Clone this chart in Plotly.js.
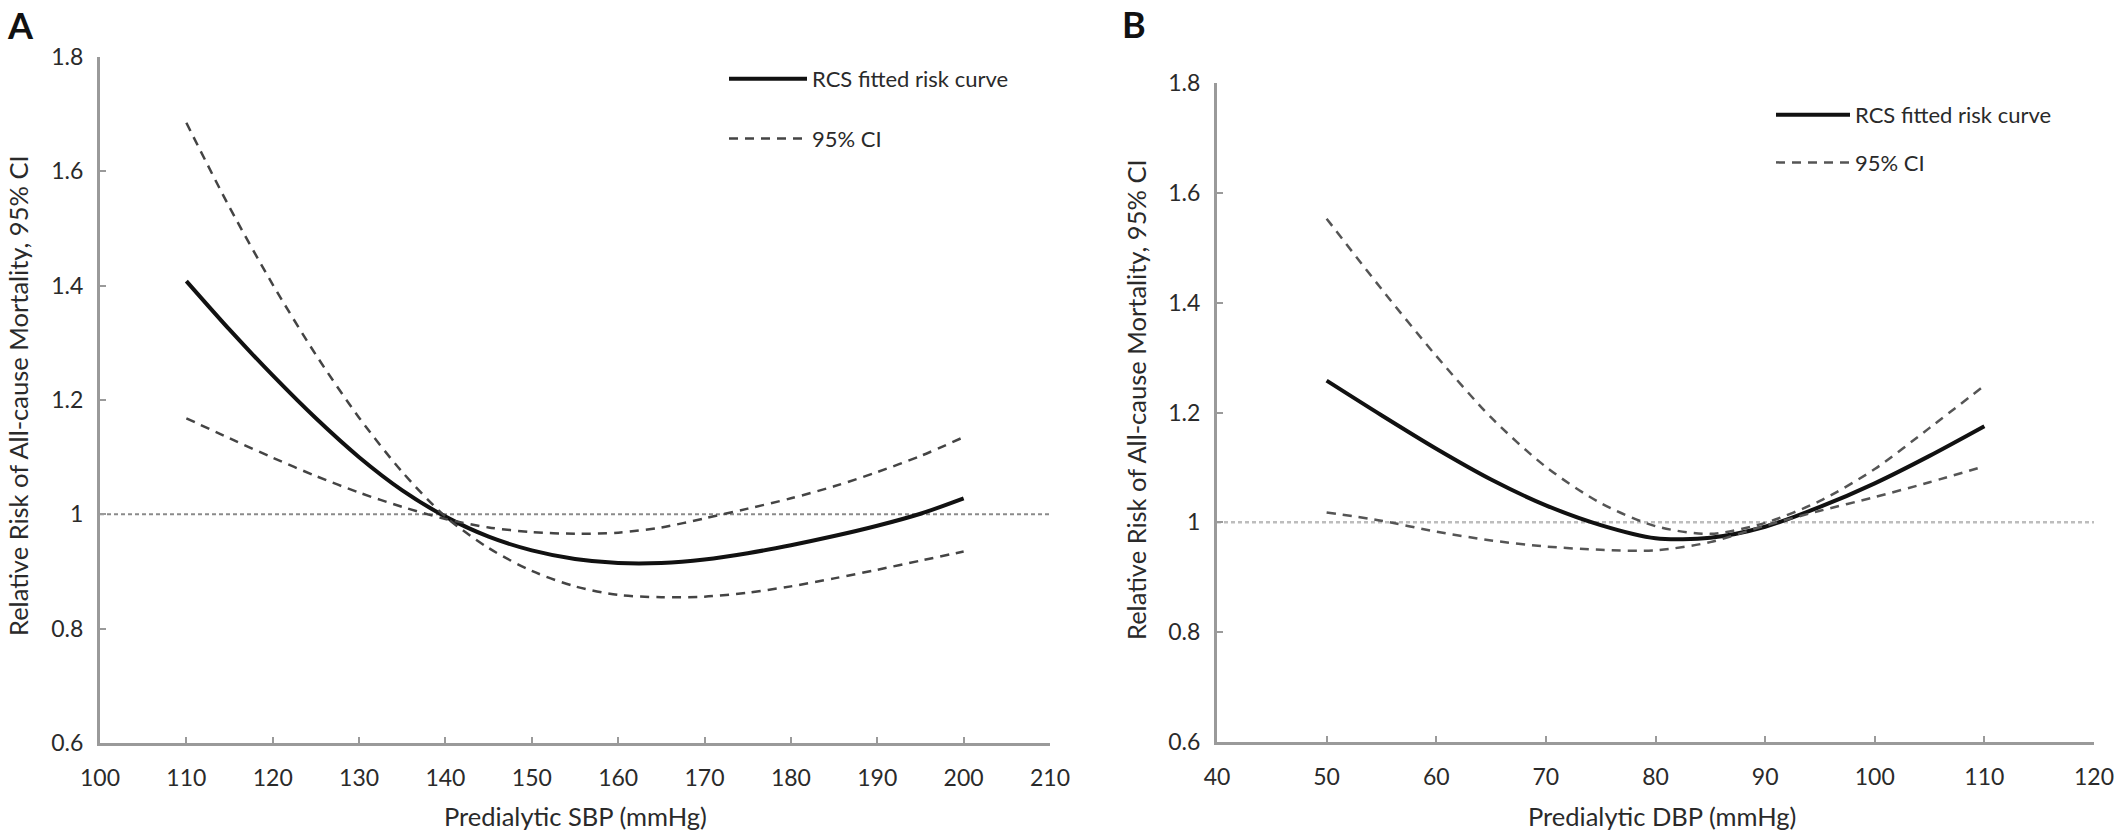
<!DOCTYPE html>
<html><head><meta charset="utf-8">
<script src="https://cdn.plot.ly/plotly-3.0.1.min.js"></script>
<style>html,body{margin:0;padding:0;background:#fff}</style>
</head><body>
<div id="chart" style="width:2125px;height:839px"></div>
<script>
// ---- Data ----
const sbpX   = [110,115,120,125,130,135,140,145,150,155,160,165,170,175,180,185,190,195,200];
const sbpRR  = [1.408,1.323,1.243,1.168,1.100,1.042,0.996,0.961,0.937,0.922,0.915,0.915,0.921,0.932,0.946,0.962,0.980,1.001,1.028];
const sbpCI1 = [1.685,1.537,1.402,1.279,1.169,1.074,0.996,0.941,0.901,0.874,0.859,0.855,0.856,0.863,0.874,0.888,0.903,0.919,0.935];
const sbpCI2 = [1.168,1.133,1.099,1.067,1.038,1.013,0.992,0.977,0.969,0.966,0.968,0.977,0.993,1.010,1.028,1.049,1.074,1.102,1.135];

const dbpX   = [50,55,60,65,70,75,80,85,90,95,100,105,110];
const dbpRR  = [1.258,1.195,1.134,1.078,1.031,0.995,0.971,0.972,0.992,1.028,1.071,1.121,1.175];
const dbpCI1 = [1.553,1.425,1.303,1.191,1.101,1.035,0.993,0.979,0.999,1.039,1.097,1.172,1.249];
const dbpCI2 = [1.018,1.003,0.983,0.967,0.956,0.950,0.949,0.964,0.994,1.021,1.046,1.073,1.102];

const refValue = 1;
const yTicks = [0.6,0.8,1.0,1.2,1.4,1.6,1.8];
const yTickText = ['0.6','0.8','1','1.2','1.4','1.6','1.8'];
const sbpTicks = [100,110,120,130,140,150,160,170,180,190,200,210];
const dbpTicks = [40,50,60,70,80,90,100,110,120];

const nameRR = 'RCS fitted risk curve';
const nameCI = '95% CI';
const yTitle = 'Relative Risk of All-cause Mortality, 95% CI';
const xTitleA = 'Predialytic SBP (mmHg)';
const xTitleB = 'Predialytic DBP (mmHg)';

// ---- Layout helpers ----
const W = 2125, H = 839;
const px = v => v / W;
const py = v => 1 - v / H;
const FONT = 'Lato, "Open Sans", Arial, sans-serif';
const TXT = '#2a2a2a';

const solid = {color:'#111', width:4, shape:'spline', smoothing:0.8};
const dashed = {color:'#444', width:2.5, dash:'9px,7px', shape:'spline', smoothing:0.8};

const traces = [
  {x:sbpX, y:sbpRR, type:'scatter', mode:'lines', name:nameRR, line:solid, xaxis:'x', yaxis:'y', legend:'legend', legendgroup:'a1'},
  {x:sbpX, y:sbpCI1, type:'scatter', mode:'lines', name:nameCI, line:dashed, xaxis:'x', yaxis:'y', legend:'legend', legendgroup:'a2'},
  {x:sbpX, y:sbpCI2, type:'scatter', mode:'lines', name:nameCI, line:dashed, xaxis:'x', yaxis:'y', showlegend:false},
  {x:dbpX, y:dbpRR, type:'scatter', mode:'lines', name:nameRR, line:solid, xaxis:'x2', yaxis:'y2', legend:'legend2', legendgroup:'b1'},
  {x:dbpX, y:dbpCI1, type:'scatter', mode:'lines', name:nameCI, line:Object.assign({}, dashed, {color:'#555'}), xaxis:'x2', yaxis:'y2', legend:'legend2', legendgroup:'b2'},
  {x:dbpX, y:dbpCI2, type:'scatter', mode:'lines', name:nameCI, line:Object.assign({}, dashed, {color:'#555'}), xaxis:'x2', yaxis:'y2', showlegend:false}
];

const axisCommon = {
  showline:true, linecolor:'#9a9a9a', linewidth:3, ticks:'inside', ticklen:6, tickwidth:2, tickcolor:'#9a9a9a',
  showgrid:false, zeroline:false, tickfont:{family:FONT, size:23, color:TXT}, fixedrange:true
};

const layout = {
  width:W, height:H, margin:{l:0,r:0,t:0,b:0}, paper_bgcolor:'#fff', plot_bgcolor:'#fff',
  font:{family:FONT, color:TXT},
  xaxis: Object.assign({}, axisCommon, {domain:[px(100), px(1050)], range:[100,210], tickvals:sbpTicks, anchor:'y', ticklabelstandoff:12}),
  yaxis: Object.assign({}, axisCommon, {domain:[py(743), py(57)], range:[0.6,1.8], tickvals:yTicks, ticktext:yTickText, anchor:'x', ticklabelstandoff:9}),
  xaxis2: Object.assign({}, axisCommon, {domain:[px(1217), px(2094)], range:[40,120], tickvals:dbpTicks, anchor:'y2', ticklabelstandoff:12}),
  yaxis2: Object.assign({}, axisCommon, {domain:[py(742), py(83)], range:[0.6,1.8], tickvals:yTicks, ticktext:yTickText, anchor:'x2', ticklabelstandoff:9}),
  showlegend:true,
  legend: {x:px(724), y:py(58), xanchor:'left', yanchor:'top', bgcolor:'rgba(0,0,0,0)', font:{family:FONT, size:22, color:TXT}, tracegroupgap:28, itemwidth:78},
  legend2: {x:px(1771), y:py(94), xanchor:'left', yanchor:'top', bgcolor:'rgba(0,0,0,0)', font:{family:FONT, size:22, color:TXT}, tracegroupgap:16, itemwidth:74},
  shapes: [
    {type:'line', xref:'x domain', yref:'y', x0:0, x1:1, y0:refValue, y1:refValue, line:{color:'#8a8a8a', width:2, dash:'4px,3px'}, layer:'below'},
    {type:'line', xref:'x2 domain', yref:'y2', x0:0, x1:1, y0:refValue, y1:refValue, line:{color:'#bdbdbd', width:2.5, dash:'4px,3px'}, layer:'below'}
  ],
  annotations: [
    {text:'<b>A</b>', xref:'paper', yref:'paper', x:px(20), y:py(25), xanchor:'center', yanchor:'middle', showarrow:false, font:{family:FONT, size:36, color:'#111'}},
    {text:'<b>B</b>', xref:'paper', yref:'paper', x:px(1134), y:py(24), xanchor:'center', yanchor:'middle', showarrow:false, font:{family:FONT, size:36, color:'#111'}},
    {text:yTitle, xref:'paper', yref:'paper', x:px(18), y:py(396), textangle:-90, xanchor:'center', yanchor:'middle', showarrow:false, font:{family:FONT, size:25.5, color:TXT}},
    {text:yTitle, xref:'paper', yref:'paper', x:px(1136), y:py(400), textangle:-90, xanchor:'center', yanchor:'middle', showarrow:false, font:{family:FONT, size:25.5, color:TXT}},
    {text:xTitleA, xref:'paper', yref:'paper', x:px(575), y:py(816), xanchor:'center', yanchor:'middle', showarrow:false, font:{family:FONT, size:25.5, color:TXT}},
    {text:xTitleB, xref:'paper', yref:'paper', x:px(1662), y:py(816), xanchor:'center', yanchor:'middle', showarrow:false, font:{family:FONT, size:25.5, color:TXT}}
  ]
};

Plotly.newPlot('chart', traces, layout, {displayModeBar:false, staticPlot:true});
</script>
</body></html>
